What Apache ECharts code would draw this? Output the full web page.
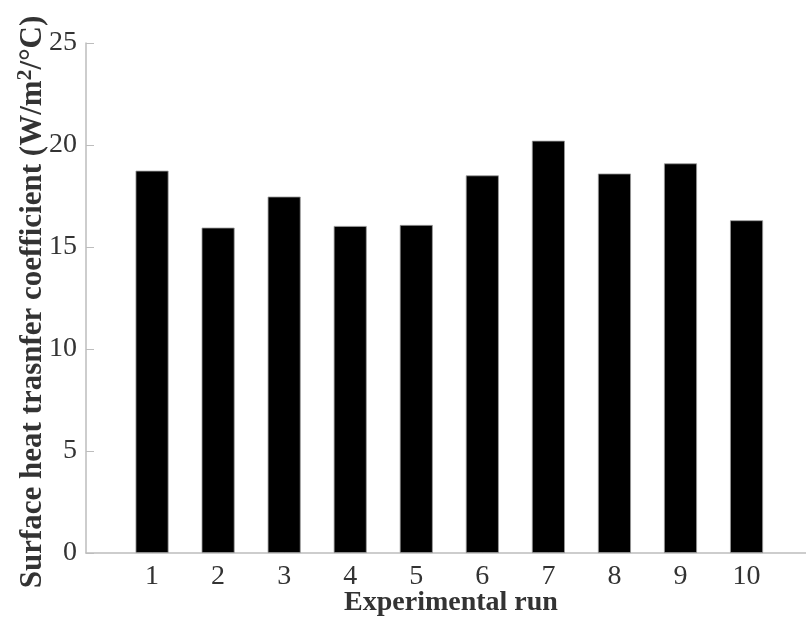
<!DOCTYPE html>
<html>
<head>
<meta charset="utf-8">
<script src="https://cdn.jsdelivr.net/npm/echarts@6/dist/echarts.min.js"></script>
<style>
  html, body { margin: 0; padding: 0; background: #fff; }
  #chart { width: 806px; height: 628px; }
</style>
</head>
<body>
<div id="chart"></div>
<script>
// run numbers and measured coefficients
var runs = [1, 2, 3, 4, 5, 6, 7, 8, 9, 10];
var coeff = [18.74, 15.95, 17.47, 16.03, 16.08, 18.51, 20.21, 18.6, 19.1, 16.31];
var yTicks = [0, 5, 10, 15, 20, 25];

var barData = [];
for (var k = 0; k < runs.length; k++) {
    barData.push([runs[k], coeff[k]]);
}

var myChart = echarts.init(document.getElementById('chart'));

var serif = '"Liberation Serif", "DejaVu Serif", serif';

var option = {
    animation: false,
    grid: {
        left: 86,
        right: 0,
        top: 43,
        bottom: 75,
        containLabel: false,
        outerBoundsMode: 'none'
    },
    xAxis: {
        type: 'value',
        min: 0,
        max: 10.9,
        interval: 1,
        splitLine: { show: false },
        axisLine: { lineStyle: { color: '#bdbdbd', width: 1.5 } },
        axisTick: { inside: true, length: 6, lineStyle: { color: '#bdbdbd' } },
        axisLabel: {
            color: '#333',
            fontFamily: serif,
            fontSize: 28,
            margin: 10,
            showMinLabel: false,
            showMaxLabel: false,
            formatter: function (v) {
                return (v >= 1 && v <= 10 && v % 1 === 0) ? String(v) : '';
            }
        },
        name: 'Experimental run',
        nameLocation: 'middle',
        nameGap: 36,
        nameMoveOverlap: false,
        nameTextStyle: {
            color: '#333',
            fontFamily: serif,
            fontWeight: 'bold',
            fontSize: 28,
            padding: [0, 0, 0, 10]
        }
    },
    yAxis: {
        type: 'value',
        min: yTicks[0],
        max: yTicks[yTicks.length - 1],
        interval: 5,
        splitLine: { show: false },
        axisLine: { show: true, lineStyle: { color: '#bdbdbd', width: 1.5 } },
        axisTick: { show: true, inside: true, length: 8, lineStyle: { color: '#bdbdbd' } },
        axisLabel: {
            color: '#333',
            fontFamily: serif,
            fontSize: 28,
            margin: 9
        },
        name: '{a|Surface heat trasnfer coefficient (W/m}{s|2}{a|/\u00B0C)}',
        nameLocation: 'middle',
        nameGap: 38,
        nameMoveOverlap: false,
        nameTextStyle: {
            padding: [0, 8, 0, 0],
            rich: {
                a: {
                    color: '#333',
                    fontFamily: serif,
                    fontWeight: 'bold',
                    fontSize: 31,
                    verticalAlign: 'bottom'
                },
                s: {
                    color: '#333',
                    fontFamily: serif,
                    fontWeight: 'bold',
                    fontSize: 22,
                    verticalAlign: 'top',
                    padding: [0, 0, 12, 0]
                }
            }
        }
    },
    series: [{
        type: 'bar',
        data: barData,
        barWidth: 33,
        itemStyle: {
            color: '#000',
            borderColor: '#9a9a9a',
            borderWidth: 0.8
        }
    }]
};

myChart.setOption(option);
</script>
</body>
</html>
